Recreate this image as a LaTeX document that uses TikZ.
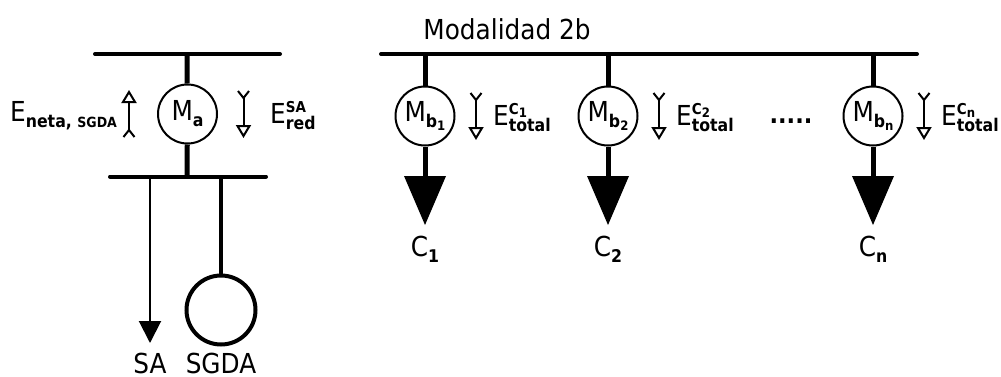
\documentclass[tikz,border=0pt]{standalone}
\usepackage{fontspec}
\setmainfont[FakeStretch=0.9]{DejaVu Sans}
\usetikzlibrary{arrows.meta}
\newcommand\bigf{\fontsize{27.5}{30}\selectfont}
\newcommand\subf{\fontsize{17.5}{20}\selectfont\bfseries}
\newcommand\ssf{\fontsize{15}{18}\selectfont\bfseries}
\newcommand\smallsub{\fontsize{14}{18}\selectfont\bfseries}
\newcommand\tinyf{\fontsize{13}{14}\selectfont\bfseries}
\newcommand\Low[1]{\raisebox{-3pt}{\tinyf #1}}
\newcommand\Eng[2]{E\makebox[0pt][l]{\raisebox{11pt}{\ssf #1}}\raisebox{-6pt}{\subf #2}}
\newcommand\Sb[2]{#1\raisebox{-6pt}{\subf #2}}
\tikzset{
 bus/.style={line width=4pt,line cap=round},
 stem/.style={line width=5pt},
 meter/.style={circle,draw,line width=2pt,minimum size=59pt,inner sep=0pt,font=\bigf},
 lab/.style={inner sep=0pt,font=\bigf},
 flow/.style={line width=2pt,{Straight Barb[reversed,length=7pt,width=11pt,line width=2pt]}-{Triangle[open,length=13pt,width=15pt,line width=2pt]}},
 load/.style={fill=black,draw=none},
}
\begin{document}
\begin{tikzpicture}[x=1pt,y=-1pt]
\useasboundingbox (0,0) rectangle (1001,376);
% left
\coordinate (b1l) at (95,54); \coordinate (b1r) at (280,54);
\coordinate (b1m) at (187,54);
\coordinate (b2l) at (110,176.5); \coordinate (b2r) at (266,176.5);
\coordinate (b2m) at (187,176.5); \coordinate (b2a) at (150,176.5); \coordinate (b2g) at (221,176.5);
\draw[bus] (b1l) -- (b1r);
\draw[bus] (b2l) -- (b2r);
\node[meter] (ma) at (187.5,114) {\Sb{M}{a}};
\draw[stem] (b1m) -- (ma);
\draw[stem] (ma) -- (b2m);
\node[circle,draw,line width=4pt,minimum size=69pt,inner sep=0pt] (sgda) at (221,310) {};
\draw[line width=4pt] (b2g) -- (sgda);
\coordinate (saT) at (150,343);
\draw[line width=2pt,-{Triangle[length=22pt,width=22pt]}] (b2a) -- (saT);
\node[lab] (saL) at (150,363) {SA};
\node[lab] (sgL) at (221,363) {SGDA};
\coordinate (f1a) at (129,138); \coordinate (f1b) at (129,90);
\draw[flow] (f1a) -- (f1b);
\coordinate (f2a) at (243.5,90); \coordinate (f2b) at (243.5,138);
\draw[flow] (f2a) -- (f2b);
\node[lab,anchor=west] (e1) at (10,116) {E\raisebox{-6pt}{\subf neta, \smallsub SGDA}};
\node[lab,anchor=west] (e2) at (270,116) {\Eng{SA}{red}};
% right
\node[lab] (title) at (507,29) {Modalidad 2b};
\coordinate (b3l) at (381,54); \coordinate (b3r) at (917,54);
\draw[bus] (b3l) -- (b3r);
\foreach \n/\x/\m/\supt/\cc in {1/425/{b\Low{1}}/{C\Low{1}}/{1}, 2/608/{b\Low{2}}/{C\Low{2}}/{2}, 3/873/{b\Low{n}}/{C\Low{n}}/{n}}{
  \coordinate (t\n) at (\x,54);
  \node[meter] (m\n) at (\x,116) {\Sb{M}{\m}};
  \draw[stem] (t\n) -- (m\n);
  \coordinate (lb\n) at (\x,177);
  \draw[stem] (m\n) -- (lb\n);
  \fill[load] (\x-21,176) -- (\x+21,176) -- (\x,225) -- cycle;
  \node[lab] (c\n) at (\x,249) {\Sb{C}{\cc}};
  \coordinate (fa\n) at (\x+51,92); \coordinate (fb\n) at (\x+51,140);
  \draw[flow] (fa\n) -- (fb\n);
  \node[lab,anchor=west] (e\n x) at (\x+68,118) {\Eng{\supt}{total}};
}
\node[inner sep=0pt,font={\fontsize{25}{25}\selectfont\bfseries}] (dots) at (791,121) {.....};
\end{tikzpicture}
\end{document}
